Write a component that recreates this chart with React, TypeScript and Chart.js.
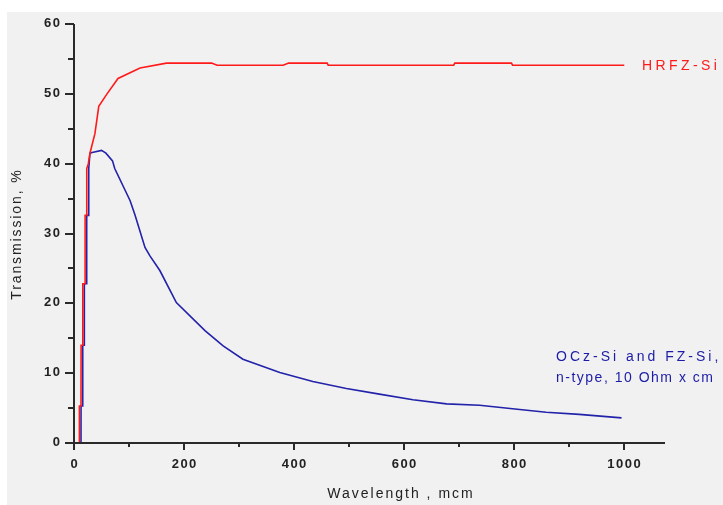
import React, { useEffect, useRef } from 'react';
import { Chart, registerables } from 'chart.js';

Chart.register(...registerables);

// ---- Data ----
const hrfzWavelength = [9.6, 9.8, 12.7, 12.9, 15.8, 16, 20, 20.2, 23, 23.2, 26, 29, 38, 45, 60, 80, 120, 168, 250, 260, 380, 390, 460, 462, 690, 692, 795, 797, 1000];
const hrfzTransmission = [0, 5.3, 5.3, 14, 14, 22.8, 22.8, 32.6, 32.6, 39.3, 40, 41.5, 44.3, 48.2, 50, 52.2, 53.7, 54.4, 54.4, 54.1, 54.1, 54.4, 54.4, 54.1, 54.1, 54.4, 54.4, 54.1, 54.1];

const oczWavelength = [12.7, 12.8, 15.8, 15.9, 18.7, 18.8, 23, 23.1, 26.7, 26.8, 29, 33, 50, 58, 70, 74, 102, 111, 129, 138, 156, 186, 238, 271, 307, 374, 434, 495, 555, 616, 677, 737, 797, 858, 918, 995];
const oczTransmission = [0, 5.3, 5.3, 14, 14, 22.8, 22.8, 32.6, 32.6, 39.3, 41.5, 41.6, 41.9, 41.5, 40.4, 39.3, 34.7, 32.6, 28, 26.8, 24.7, 20.1, 16.1, 13.9, 12.0, 10.1, 8.8, 7.8, 7.0, 6.2, 5.6, 5.4, 4.9, 4.4, 4.1, 3.6];

const xMin = 0;
const xMax = 1074;
const xMinorStep = 100;
const xMajorStep = 200;
const yMin = 0;
const yMax = 60;
const yMinorStep = 5;
const yMajorStep = 10;

const xTitle = 'Wavelength , mcm';
const yTitle = 'Transmission, %';
const hrfzLabelLines = ['HRFZ-Si'];
const oczLabelLines = ['OCz-Si and FZ-Si,', 'n-type, 10 Ohm x cm'];

const RED = '#ff1a1a';
const BLUE = '#2222aa';
const BLUE_TEXT = '#1c1ca8';
const AXIS = '#2a2a2a';
const FONT = '"Liberation Sans", Arial, sans-serif';

function spacedText(ctx: any, text: string, x: number, y: number, spacing: number, align: 'left' | 'center' | 'right') {
  ctx.letterSpacing = spacing + 'px';
  const w = ctx.measureText(text).width - spacing;
  let sx = x;
  if (align === 'center') sx = x - w / 2;
  else if (align === 'right') sx = x - w;
  ctx.textAlign = 'left';
  ctx.fillText(text, sx, y);
  ctx.letterSpacing = '0px';
}

const decorPlugin = {
  id: 'decor',
  beforeDraw(chart: any) {
    const ctx = chart.ctx;
    ctx.save();
    ctx.fillStyle = '#ffffff';
    ctx.fillRect(0, 0, chart.width, chart.height);
    ctx.fillStyle = '#f1f1f1';
    ctx.fillRect(7, 12, chart.width - 7, chart.height - 12);
    ctx.restore();
  },
  afterDraw(chart: any) {
    const ctx = chart.ctx;
    const xs = chart.scales.x;
    const ys = chart.scales.y;
    const area = chart.chartArea;
    const left = Math.round(area.left);
    const bottom = Math.round(area.bottom);
    ctx.save();
    ctx.strokeStyle = AXIS;
    ctx.lineWidth = 2;
    ctx.lineCap = 'butt';
    ctx.beginPath();
    ctx.moveTo(left - 9, bottom);
    ctx.lineTo(Math.round(area.right), bottom);
    ctx.moveTo(left, Math.round(area.top));
    ctx.lineTo(left, bottom + 7);
    ctx.stroke();

    ctx.fillStyle = '#222';
    ctx.font = `bold 13px ${FONT}`;
    ctx.textBaseline = 'middle';
    ys.ticks.forEach((t: any) => {
      const py = Math.round(ys.getPixelForValue(t.value));
      const major = Math.abs(t.value % yMajorStep) < 1e-6;
      const len = major ? 9 : 6;
      ctx.beginPath();
      ctx.moveTo(left - len, py);
      ctx.lineTo(left, py);
      ctx.stroke();
      if (major) spacedText(ctx, String(t.value), 60, py - 1, 1.5, 'right');
    });

    xs.ticks.forEach((t: any) => {
      if (t.value > 1000) return;
      const px = Math.round(xs.getPixelForValue(t.value));
      const major = Math.abs(t.value % xMajorStep) < 1e-6;
      const len = major ? 7 : 4;
      ctx.beginPath();
      ctx.moveTo(px, bottom);
      ctx.lineTo(px, bottom + len);
      ctx.stroke();
      if (major) spacedText(ctx, String(t.value), px, 464, 1.5, 'center');
    });

    ctx.fillStyle = '#222';
    ctx.font = `14px ${FONT}`;
    spacedText(ctx, xTitle, 400, 494, 2, 'center');
    ctx.save();
    ctx.translate(17, 235);
    ctx.rotate(-Math.PI / 2);
    spacedText(ctx, yTitle, 0, 0, 1.9, 'center');
    ctx.restore();

    ctx.font = `14px ${FONT}`;
    ctx.fillStyle = RED;
    hrfzLabelLines.forEach((line, i) => spacedText(ctx, line, 642, 66 + i * 21, 3.4, 'left'));
    ctx.fillStyle = BLUE_TEXT;
    const oczSpacing = [3, 1.5];
    oczLabelLines.forEach((line, i) => spacedText(ctx, line, 556, 357 + i * 21, oczSpacing[i], 'left'));
    ctx.restore();
  },
};

export default function App() {
  const canvasRef = useRef<HTMLCanvasElement | null>(null);

  useEffect(() => {
    document.body.style.margin = '0';
    const canvas = canvasRef.current;
    if (!canvas) return;
    const chart = new Chart(canvas, {
      type: 'scatter',
      data: {
        datasets: [
          {
            label: hrfzLabelLines.join(' '),
            data: hrfzWavelength.map((x, i) => ({ x, y: hrfzTransmission[i] })),
            showLine: true,
            borderColor: RED,
            borderWidth: 1.6,
            pointRadius: 0,
            tension: 0,
          },
          {
            label: oczLabelLines.join(' '),
            data: oczWavelength.map((x, i) => ({ x, y: oczTransmission[i] })),
            showLine: true,
            borderColor: BLUE,
            borderWidth: 1.6,
            pointRadius: 0,
            tension: 0,
          },
        ],
      },
      options: {
        responsive: false,
        animation: false,
        layout: { padding: { left: 0, right: 58, top: 24, bottom: 0 } },
        plugins: { legend: { display: false }, tooltip: { enabled: false } },
        scales: {
          x: {
            type: 'linear',
            min: xMin,
            max: xMax,
            ticks: { display: false, stepSize: xMinorStep, includeBounds: false },
            grid: { display: false },
            border: { display: false },
            afterFit: (s: any) => { s.height = 62; },
          },
          y: {
            type: 'linear',
            min: yMin,
            max: yMax,
            ticks: { display: false, stepSize: yMinorStep },
            grid: { display: false },
            border: { display: false },
            afterFit: (s: any) => { s.width = 74; },
          },
        },
      },
      plugins: [decorPlugin],
    });
    return () => chart.destroy();
  }, []);

  return (
    <div style={{ width: 723, height: 505 }}>
      <canvas ref={canvasRef} width={723} height={505} style={{ display: 'block' }} />
    </div>
  );
}
